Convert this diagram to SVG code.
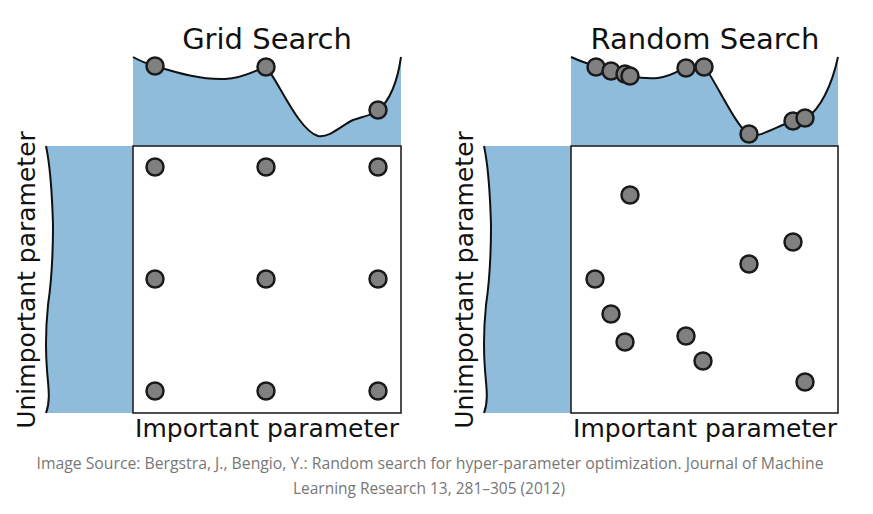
<svg xmlns="http://www.w3.org/2000/svg" width="873" height="514" viewBox="0 0 873 514">
<style>
.fill{fill:#8fbcdb;stroke:none}
.curve{fill:none;stroke:#111;stroke-width:2}
.box{fill:#fff;stroke:#222;stroke-width:1.6}
.pt{fill:#808080;stroke:#1a1a1a;stroke-width:2.5}
.title{font-family:"DejaVu Sans",sans-serif;font-size:29px;fill:#111;text-anchor:middle}
.axis{font-family:"DejaVu Sans",sans-serif;font-size:25px;fill:#111;text-anchor:middle}
.cap{font-family:"Open Sans","Noto Sans",sans-serif;font-size:16px;fill:#777;text-anchor:middle}
</style>
<rect width="873" height="514" fill="#fff"/>
<defs>
<circle id="dot" r="8.5" class="pt"/>
</defs>

<g id="grid-search">
  <g id="grid-top">
    <path class="fill" d="M133,57 C140,61 148,64 155,66 C175,72 200,80 225,79 C245,78 255,70 266,67 C278,80 298,130 318,136 C330,138 342,125 353,120 C362,117 372,115 378,111 C388,102 397,85 401,57 L401,146 L133,146 Z"/>
    <path class="curve" d="M133,57 C140,61 148,64 155,66 C175,72 200,80 225,79 C245,78 255,70 266,67 C278,80 298,130 318,136 C330,138 342,125 353,120 C362,117 372,115 378,111 C388,102 397,85 401,57"/>
    <use href="#dot" x="155" y="66"/>
    <use href="#dot" x="266" y="67"/>
    <use href="#dot" x="378" y="110"/>
  </g>
  <g id="grid-left">
    <path class="fill" d="M46,146 C49,160 52,190 53,225 C53,255 51,285 48,305 C46,325 45,345 47,370 C48,385 51,400 46,413 L133,413 L133,146 Z"/>
    <path class="curve" d="M46,146 C49,160 52,190 53,225 C53,255 51,285 48,305 C46,325 45,345 47,370 C48,385 51,400 46,413"/>
  </g>
  <g id="grid-box">
    <rect class="box" x="133" y="146" width="268" height="267"/>
    <use href="#dot" x="155" y="167"/>
    <use href="#dot" x="266" y="167"/>
    <use href="#dot" x="378" y="167"/>
    <use href="#dot" x="155" y="279"/>
    <use href="#dot" x="266" y="279"/>
    <use href="#dot" x="378" y="279"/>
    <use href="#dot" x="155" y="391"/>
    <use href="#dot" x="266" y="391"/>
    <use href="#dot" x="378" y="391"/>
  </g>
  <text class="title" x="267" y="49">Grid Search</text>
  <text class="axis" x="267" y="437">Important parameter</text>
  <text class="axis" transform="translate(35,280) rotate(-90)">Unimportant parameter</text>
</g>

<g id="random-search">
  <g id="random-top">
    <path class="fill" d="M571,57 C580,61 588,64 596,66 C605,69 620,74 630,76 C640,78 648,79 658,78 C670,77 680,70 686,67 C695,66 700,66 704,66 C715,80 735,125 749,135 C760,138 775,127 793,121 C800,119 803,119 806,118 C820,110 832,85 838,57 L838,146 L571,146 Z"/>
    <path class="curve" d="M571,57 C580,61 588,64 596,66 C605,69 620,74 630,76 C640,78 648,79 658,78 C670,77 680,70 686,67 C695,66 700,66 704,66 C715,80 735,125 749,135 C760,138 775,127 793,121 C800,119 803,119 806,118 C820,110 832,85 838,57"/>
    <use href="#dot" x="596" y="67"/>
    <use href="#dot" x="611" y="71"/>
    <use href="#dot" x="625" y="74"/>
    <use href="#dot" x="630" y="76"/>
    <use href="#dot" x="686" y="68"/>
    <use href="#dot" x="704" y="67"/>
    <use href="#dot" x="749" y="134"/>
    <use href="#dot" x="793" y="121"/>
    <use href="#dot" x="805" y="118"/>
  </g>
  <g id="random-left">
    <path class="fill" d="M484,146 C487,160 490,190 491,225 C491,255 489,285 486,305 C484,325 483,345 485,370 C486,385 489,400 484,413 L571,413 L571,146 Z"/>
    <path class="curve" d="M484,146 C487,160 490,190 491,225 C491,255 489,285 486,305 C484,325 483,345 485,370 C486,385 489,400 484,413"/>
  </g>
  <g id="random-box">
    <rect class="box" x="571" y="146" width="267" height="267"/>
    <use href="#dot" x="630" y="195"/>
    <use href="#dot" x="793" y="242"/>
    <use href="#dot" x="749" y="264"/>
    <use href="#dot" x="595" y="279"/>
    <use href="#dot" x="611" y="314"/>
    <use href="#dot" x="625" y="342"/>
    <use href="#dot" x="686" y="336"/>
    <use href="#dot" x="703" y="361"/>
    <use href="#dot" x="805" y="382"/>
  </g>
  <text class="title" x="705" y="49">Random Search</text>
  <text class="axis" x="705" y="437">Important parameter</text>
  <text class="axis" transform="translate(473,280) rotate(-90)">Unimportant parameter</text>
</g>

<g id="caption">
  <text class="cap" x="430" y="469" textLength="787" lengthAdjust="spacingAndGlyphs">Image Source: Bergstra, J., Bengio, Y.: Random search for hyper-parameter optimization. Journal of Machine</text>
  <text class="cap" x="429" y="494" textLength="272" lengthAdjust="spacingAndGlyphs">Learning Research 13, 281–305 (2012)</text>
</g>
</svg>
